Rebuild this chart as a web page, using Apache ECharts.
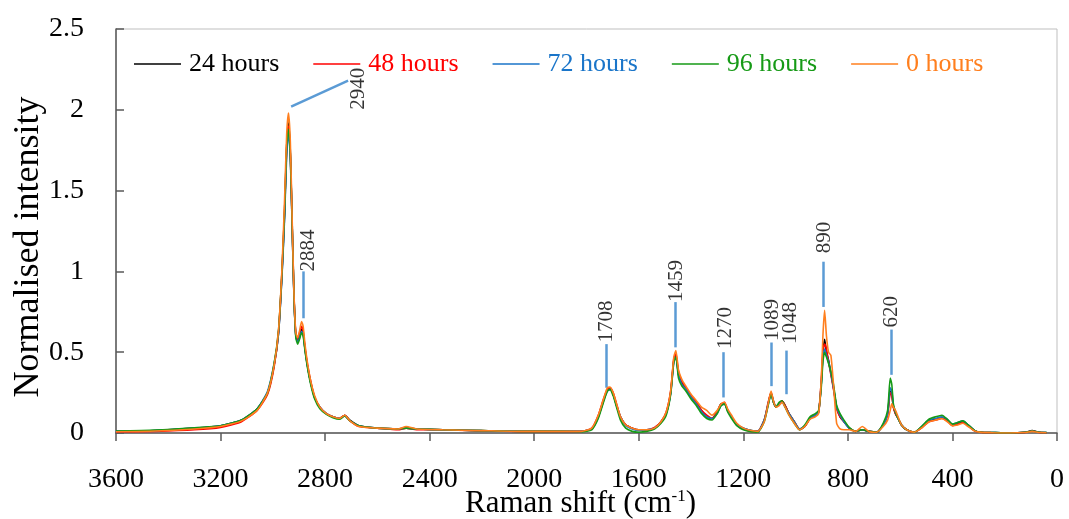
<!DOCTYPE html>
<html>
<head>
<meta charset="utf-8">
<script src="https://cdn.jsdelivr.net/npm/echarts@6/dist/echarts.min.js"></script>
<style>
  html, body { margin: 0; padding: 0; background: #fff; }
  #main { width: 1069px; height: 519px; }
</style>
</head>
<body>
<div id="main"></div>
<script>
const seriesNames = ["24 hours", "48 hours", "72 hours", "96 hours", "0 hours"];
const seriesColors = ["#000000", "#ff0000", "#1a75c9", "#169a16", "#ff7f1e"];

// Raman shift (cm-1), shared by all spectra
const shift = [
  3600, 3450, 3300, 3200, 3120, 3060, 3020, 2995, 2978, 2965,
  2955, 2947, 2940, 2933, 2926, 2919, 2912, 2905, 2898, 2890,
  2884, 2877, 2868, 2855, 2840, 2820, 2795, 2770, 2745, 2725,
  2705, 2670, 2600, 2520, 2490, 2450, 2350, 2200, 2050, 1900,
  1820, 1780, 1755, 1735, 1720, 1710, 1698, 1685, 1670, 1650,
  1625, 1600, 1570, 1540, 1515, 1495, 1478, 1466, 1458, 1448,
  1435, 1420, 1400, 1380, 1360, 1340, 1320, 1300, 1285, 1272,
  1260, 1245, 1225, 1200, 1170, 1145, 1120, 1105, 1094, 1085,
  1075, 1063, 1052, 1040, 1025, 1005, 985, 965, 945, 925,
  912, 902, 895, 889, 882, 874, 865, 855, 843, 830,
  815, 795, 770, 745, 720, 690, 665, 648, 638, 632,
  626, 618, 608, 595, 575, 545, 515, 490, 465, 440,
  420, 400, 380, 360, 340, 315, 290, 250, 180, 120,
  95, 70, 40
];

const h24 = [
  0.01, 0.015, 0.03, 0.045, 0.08, 0.15, 0.25, 0.42, 0.62, 0.98,
  1.35, 1.76, 1.92, 1.74, 1.30, 0.85, 0.60, 0.57, 0.60, 0.64,
  0.62, 0.52, 0.42, 0.31, 0.22, 0.16, 0.12, 0.10, 0.09, 0.11,
  0.08, 0.045, 0.03, 0.025, 0.03, 0.025, 0.02, 0.015, 0.01, 0.01,
  0.01, 0.025, 0.10, 0.20, 0.27, 0.28, 0.24, 0.17, 0.10, 0.05,
  0.03, 0.02, 0.02, 0.03, 0.07, 0.12, 0.25, 0.45, 0.48, 0.36,
  0.31, 0.28, 0.23, 0.19, 0.14, 0.10, 0.09, 0.13, 0.18, 0.18,
  0.14, 0.10, 0.05, 0.03, 0.015, 0.01, 0.08, 0.18, 0.25, 0.20,
  0.16, 0.18, 0.20, 0.17, 0.12, 0.07, 0.02, 0.04, 0.09, 0.11,
  0.13, 0.30, 0.50, 0.58, 0.50, 0.45, 0.37, 0.28, 0.16, 0.10,
  0.07, 0.03, 0.01, 0.02, 0.01, 0.005, 0.05, 0.12, 0.26, 0.24,
  0.16, 0.12, 0.09, 0.05, 0.02, 0.005, 0.04, 0.075, 0.085, 0.095,
  0.08, 0.05, 0.06, 0.07, 0.05, 0.015, 0.005, 0.003, 0.0, 0.005,
  0.015, 0.005, 0.003
];

const h48 = [
  0.005, 0.01, 0.02, 0.035, 0.07, 0.14, 0.24, 0.41, 0.63, 1.0,
  1.38, 1.78, 1.90, 1.72, 1.28, 0.84, 0.61, 0.58, 0.62, 0.66,
  0.63, 0.53, 0.43, 0.32, 0.22, 0.16, 0.12, 0.10, 0.09, 0.11,
  0.075, 0.04, 0.03, 0.02, 0.03, 0.02, 0.02, 0.012, 0.01, 0.008,
  0.01, 0.03, 0.11, 0.21, 0.27, 0.28, 0.25, 0.18, 0.10, 0.05,
  0.03, 0.02, 0.02, 0.035, 0.07, 0.13, 0.26, 0.46, 0.49, 0.38,
  0.32, 0.28, 0.23, 0.19, 0.14, 0.11, 0.09, 0.13, 0.18, 0.19,
  0.14, 0.10, 0.05, 0.025, 0.01, 0.01, 0.08, 0.19, 0.25, 0.19,
  0.16, 0.18, 0.20, 0.17, 0.12, 0.07, 0.025, 0.04, 0.09, 0.11,
  0.13, 0.32, 0.52, 0.55, 0.52, 0.44, 0.36, 0.27, 0.15, 0.10,
  0.07, 0.03, 0.01, 0.02, 0.01, 0.005, 0.05, 0.11, 0.25, 0.23,
  0.16, 0.12, 0.09, 0.05, 0.02, 0.005, 0.035, 0.07, 0.08, 0.09,
  0.075, 0.045, 0.055, 0.065, 0.045, 0.012, 0.004, 0.002, 0.0, 0.004,
  0.012, 0.004, 0.002
];

const h72 = [
  0.01, 0.015, 0.03, 0.045, 0.08, 0.15, 0.26, 0.43, 0.62, 0.97,
  1.33, 1.72, 1.86, 1.70, 1.27, 0.83, 0.60, 0.56, 0.59, 0.63,
  0.61, 0.52, 0.42, 0.31, 0.22, 0.16, 0.12, 0.10, 0.09, 0.105,
  0.075, 0.045, 0.03, 0.025, 0.03, 0.025, 0.02, 0.015, 0.012, 0.01,
  0.01, 0.025, 0.10, 0.20, 0.26, 0.27, 0.24, 0.17, 0.10, 0.045,
  0.025, 0.015, 0.02, 0.03, 0.065, 0.12, 0.24, 0.44, 0.47, 0.36,
  0.30, 0.27, 0.22, 0.18, 0.13, 0.10, 0.09, 0.12, 0.17, 0.18,
  0.14, 0.10, 0.05, 0.03, 0.015, 0.01, 0.08, 0.18, 0.24, 0.19,
  0.16, 0.18, 0.19, 0.16, 0.12, 0.07, 0.025, 0.045, 0.09, 0.11,
  0.13, 0.30, 0.48, 0.52, 0.48, 0.44, 0.37, 0.28, 0.16, 0.11,
  0.07, 0.03, 0.01, 0.02, 0.01, 0.005, 0.05, 0.12, 0.28, 0.26,
  0.17, 0.13, 0.09, 0.05, 0.02, 0.005, 0.045, 0.08, 0.09, 0.10,
  0.085, 0.055, 0.065, 0.075, 0.05, 0.015, 0.005, 0.003, 0.0, 0.005,
  0.012, 0.005, 0.003
];

const h96 = [
  0.012, 0.018, 0.032, 0.045, 0.08, 0.15, 0.25, 0.43, 0.64, 1.0,
  1.38, 1.78, 1.88, 1.72, 1.28, 0.84, 0.59, 0.55, 0.58, 0.62,
  0.60, 0.51, 0.41, 0.30, 0.21, 0.15, 0.115, 0.095, 0.085, 0.105,
  0.075, 0.045, 0.03, 0.025, 0.03, 0.025, 0.02, 0.015, 0.01, 0.01,
  0.008, 0.02, 0.09, 0.19, 0.26, 0.27, 0.23, 0.16, 0.08, 0.03,
  0.01, 0.005, 0.01, 0.025, 0.06, 0.11, 0.24, 0.44, 0.47, 0.34,
  0.29, 0.26, 0.21, 0.17, 0.12, 0.09, 0.08, 0.12, 0.17, 0.18,
  0.13, 0.09, 0.045, 0.02, 0.008, 0.005, 0.07, 0.17, 0.24, 0.19,
  0.16, 0.19, 0.20, 0.16, 0.11, 0.06, 0.02, 0.05, 0.10, 0.12,
  0.14, 0.28, 0.45, 0.50, 0.47, 0.43, 0.38, 0.30, 0.17, 0.12,
  0.08, 0.035, 0.01, 0.02, 0.01, 0.005, 0.06, 0.14, 0.34, 0.30,
  0.18, 0.13, 0.09, 0.05, 0.02, 0.005, 0.045, 0.085, 0.10, 0.11,
  0.085, 0.055, 0.065, 0.075, 0.05, 0.015, 0.005, 0.003, 0.0, 0.005,
  0.012, 0.005, 0.003
];

const h0 = [
  0.008, 0.012, 0.025, 0.04, 0.075, 0.14, 0.25, 0.42, 0.64, 1.02,
  1.45, 1.85, 1.98, 1.80, 1.32, 0.86, 0.62, 0.59, 0.63, 0.69,
  0.66, 0.55, 0.44, 0.32, 0.23, 0.16, 0.12, 0.10, 0.09, 0.11,
  0.075, 0.04, 0.03, 0.025, 0.04, 0.025, 0.02, 0.015, 0.01, 0.01,
  0.01, 0.03, 0.11, 0.21, 0.28, 0.285, 0.25, 0.18, 0.10, 0.05,
  0.03, 0.02, 0.02, 0.03, 0.07, 0.13, 0.26, 0.47, 0.51, 0.39,
  0.33, 0.29, 0.24, 0.20, 0.16, 0.14, 0.11, 0.14, 0.18, 0.19,
  0.15, 0.11, 0.06, 0.03, 0.015, 0.01, 0.07, 0.18, 0.26, 0.20,
  0.16, 0.17, 0.19, 0.16, 0.11, 0.06, 0.02, 0.04, 0.085, 0.10,
  0.12, 0.33, 0.62, 0.76, 0.60, 0.50, 0.48, 0.30, 0.06, 0.025,
  0.02, 0.02, 0.01, 0.04, 0.01, 0.005, 0.04, 0.08, 0.14, 0.18,
  0.16, 0.14, 0.10, 0.05, 0.02, 0.005, 0.035, 0.07, 0.08, 0.09,
  0.07, 0.045, 0.05, 0.06, 0.04, 0.012, 0.004, 0.002, 0.0, 0.003,
  0.01, 0.003, 0.002
];

const spectra = [h24, h48, h72, h96, h0];

// peak annotations: label text, label anchor, leader line from / to (data units)
const peakText = ["2940", "2884", "1708", "1459", "1270", "1089", "1048", "890", "620"];
const peakLabelAt = [
  [2674, 2.13], [2865, 1.13], [1725, 0.69], [1454, 0.94], [1270, 0.65],
  [1090, 0.70], [1021, 0.68], [888, 1.21], [635, 0.75]
];
const peakLineFrom = [
  [2930, 2.02], [2885, 0.71], [1725, 0.28], [1461, 0.53], [1278, 0.22],
  [1094, 0.29], [1037, 0.24], [895, 0.78], [635, 0.36]
];
const peakLineTo = [
  [2712, 2.18], [2885, 1.0], [1725, 0.55], [1461, 0.81], [1278, 0.50],
  [1094, 0.56], [1037, 0.51], [895, 1.06], [635, 0.64]
];

const serif = "'Liberation Serif', 'Times New Roman', serif";

const chart = echarts.init(document.getElementById("main"));

const lineSeries = seriesNames.map((name, i) => ({
  name: name,
  type: "line",
  data: shift.map((x, k) => [x, spectra[i][k]]),
  showSymbol: false,
  symbol: "none",
  smooth: 0.2,
  lineStyle: { color: seriesColors[i], width: 1.6 },
  itemStyle: { color: seriesColors[i] },
  z: 2 + i,
}));

const peakSeries = {
  name: "peaks",
  type: "scatter",
  symbolSize: 0,
  silent: true,
  z: 10,
  data: peakText.map((t, i) => [peakLabelAt[i][0], peakLabelAt[i][1], t]),
  label: {
    show: true,
    position: "inside",
    rotate: 90,
    formatter: (p) => p.value[2],
    fontFamily: serif,
    fontSize: 21,
    color: "#000",
  },
  markLine: {
    silent: true,
    symbol: ["none", "none"],
    label: { show: false },
    lineStyle: { color: "#5b9bd5", width: 2.5, type: "solid" },
    data: peakLineFrom.map((p, i) => [{ coord: p }, { coord: peakLineTo[i] }]),
  },
};

chart.setOption({
  animation: false,
  grid: {
    left: 116,
    right: 12,
    top: 29,
    bottom: 86,
    containLabel: false,
    outerBoundsMode: "none",
    show: true,
    borderColor: "#bfbfbf",
    borderWidth: 1,
  },
  legend: {
    data: seriesNames.map((n, i) => ({ name: n, textStyle: { color: seriesColors[i] } })),
    left: 129,
    top: 46,
    icon: "rect",
    itemWidth: 47,
    itemHeight: 1.5,
    itemGap: 34,
    textStyle: { fontFamily: serif, fontSize: 26, padding: [0, 0, 0, 3] },
  },
  xAxis: {
    type: "value",
    inverse: true,
    min: 0,
    max: 3600,
    interval: 400,
    name: "Raman shift (cm{sup|-1})",
    nameLocation: "middle",
    nameGap: 55,
    nameMoveOverlap: false,
    nameTextStyle: {
      fontFamily: serif,
      fontSize: 31,
      color: "#000",
      padding: [0, 12, 0, 0],
      rich: {
        sup: { fontFamily: serif, fontSize: 17, color: "#000", padding: [0, 0, 15, 0] },
      },
    },
    axisLine: { onZero: false, lineStyle: { color: "#595959", width: 1.5 } },
    axisTick: { length: 8, lineStyle: { color: "#595959", width: 1.5 } },
    axisLabel: {
      fontFamily: serif,
      fontSize: 28,
      color: "#000",
      margin: 33,
      formatter: (v) => String(v),
    },
    splitLine: { show: false },
  },
  yAxis: {
    type: "value",
    min: 0,
    max: 2.5,
    interval: 0.5,
    name: "Normalised intensity",
    nameLocation: "middle",
    nameGap: 69,
    nameMoveOverlap: false,
    nameTextStyle: { fontFamily: serif, fontSize: 36, color: "#000", padding: [0, 32, 0, 0] },
    axisLine: { show: true, onZero: false, lineStyle: { color: "#595959", width: 1.5 } },
    axisTick: { show: true, inside: true, length: 8, lineStyle: { color: "#595959", width: 1.5 } },
    axisLabel: { fontFamily: serif, fontSize: 28, color: "#000", margin: 32 },
    splitLine: { show: false },
  },
  series: [...lineSeries, peakSeries],
});
</script>
</body>
</html>
